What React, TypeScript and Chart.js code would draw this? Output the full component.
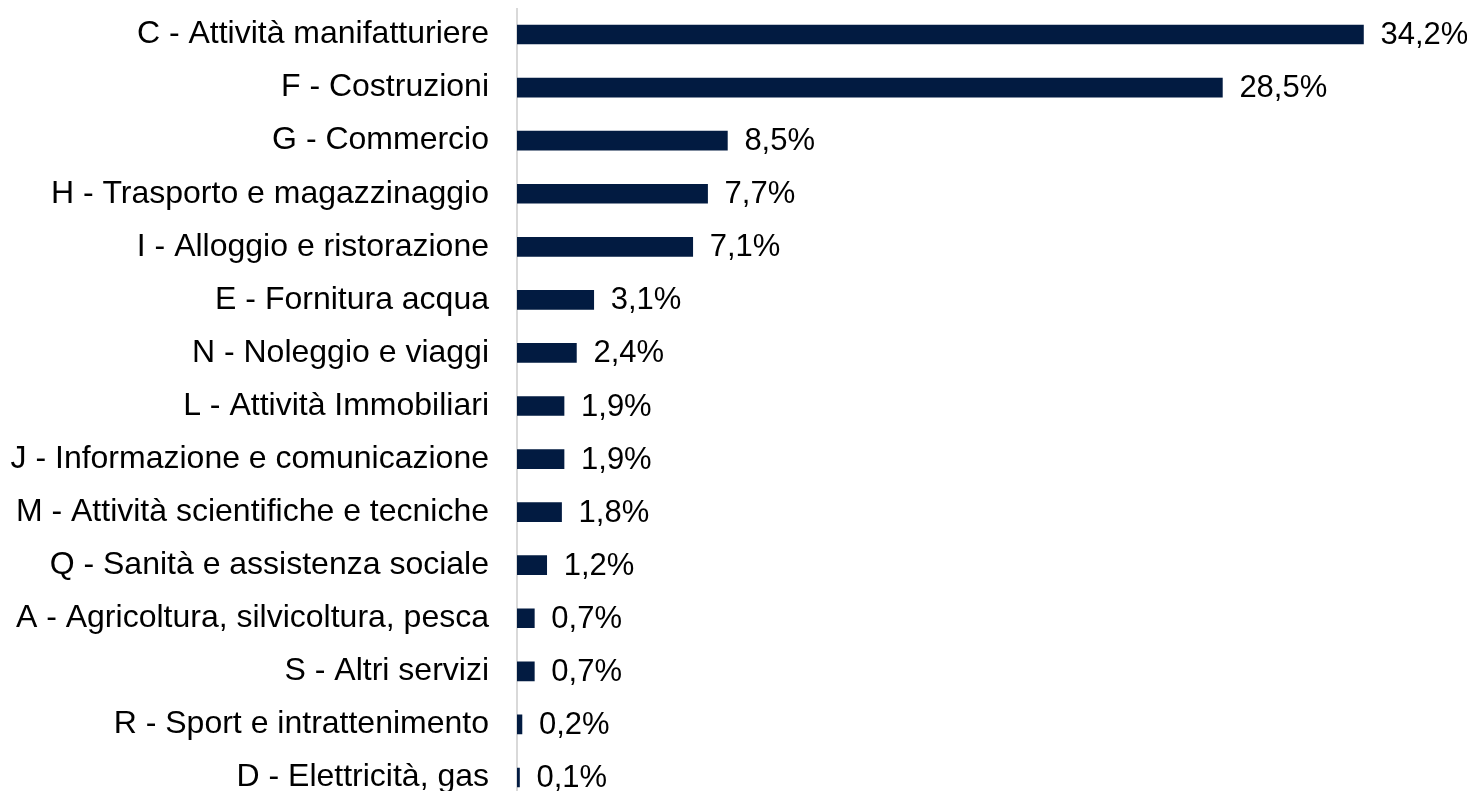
import React, { useEffect, useRef } from "react";
import { Chart, registerables } from "chart.js";

Chart.register(...registerables);

const categories: string[] = [
  "C - Attività manifatturiere",
  "F - Costruzioni",
  "G - Commercio",
  "H - Trasporto e magazzinaggio",
  "I - Alloggio e ristorazione",
  "E - Fornitura acqua",
  "N - Noleggio e viaggi",
  "L - Attività Immobiliari",
  "J - Informazione e comunicazione",
  "M - Attività scientifiche e tecniche",
  "Q - Sanità e assistenza sociale",
  "A - Agricoltura, silvicoltura, pesca",
  "S - Altri servizi",
  "R - Sport e intrattenimento",
  "D - Elettricità, gas",
];

const shares: number[] = [34.2, 28.5, 8.5, 7.7, 7.1, 3.1, 2.4, 1.9, 1.9, 1.8, 1.2, 0.7, 0.7, 0.2, 0.1];

const FONT = '"Liberation Sans", Arial, sans-serif';
const BAR_COLOR = "#021B41";

const valueLabels = {
  id: "valueLabels",
  afterDatasetsDraw(chart: any) {
    const ctx = chart.ctx;
    const meta = chart.getDatasetMeta(0);
    ctx.save();
    ctx.font = `31px ${FONT}`;
    ctx.fillStyle = "#000000";
    ctx.textAlign = "left";
    ctx.textBaseline = "middle";
    meta.data.forEach((el: any, i: number) => {
      const v = chart.data.datasets[0].data[i] as number;
      const txt = v.toFixed(1).replace(".", ",") + "%";
      ctx.fillText(txt, el.x + 17, el.y + 1);
    });
    ctx.restore();
  },
};

export default function App() {
  const ref = useRef<HTMLCanvasElement | null>(null);

  useEffect(() => {
    if (!ref.current) return;
    const chart = new Chart(ref.current, {
      type: "bar",
      data: {
        labels: categories,
        datasets: [
          {
            data: shares,
            backgroundColor: BAR_COLOR,
            barThickness: 19,
          },
        ],
      },
      options: {
        indexAxis: "y",
        responsive: false,
        animation: false,
        layout: { padding: { top: 0, bottom: 0, left: 0, right: 17.5 } },
        plugins: {
          legend: { display: false },
          tooltip: { enabled: false },
        },
        scales: {
          x: {
            display: false,
            min: 0,
            max: 38,
          },
          y: {
            grid: { display: false, drawTicks: false },
            border: { display: true, color: "#D9D9D9", width: 2 },
            ticks: {
              color: "#000000",
              font: { family: FONT, size: 32 },
              padding: 28,
              autoSkip: false,
            },
            afterFit: (scale: any) => {
              scale.width = 509;
              scale.paddingTop = 0;
              scale.paddingBottom = 0;
            },
          },
        },
      },
      plugins: [valueLabels],
    });
    return () => chart.destroy();
  }, []);

  return (
    <div style={{ width: 1467, height: 783, overflow: "hidden" }}>
      <canvas ref={ref} width={1467} height={796} style={{ display: "block" }} />
    </div>
  );
}
